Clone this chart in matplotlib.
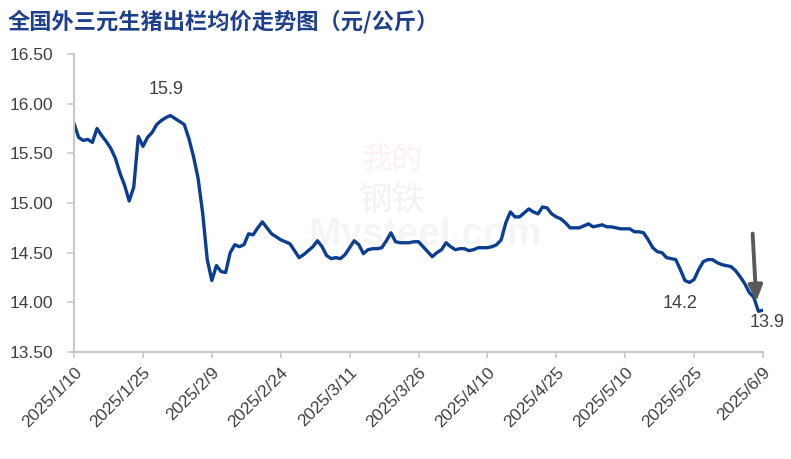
import numpy as np
import pandas as pd
import matplotlib
matplotlib.use("Agg")
import matplotlib.pyplot as plt

# 全国外三元生猪出栏均价 (元/公斤), 2025/1/10 - 2025/6/9
start = "2025-01-10"
prices = [
    15.80, 15.66, 15.63, 15.64, 15.61, 15.75, 15.68, 15.62, 15.55, 15.45,
    15.30, 15.18, 15.02, 15.16, 15.67, 15.57, 15.66, 15.71, 15.79, 15.83,
    15.86, 15.88, 15.85, 15.82, 15.79, 15.65, 15.47, 15.25, 14.90, 14.43,
    14.22, 14.37, 14.31, 14.30, 14.50, 14.58, 14.56, 14.58, 14.69, 14.68,
    14.75, 14.81, 14.75, 14.69, 14.66, 14.63, 14.61, 14.59, 14.52, 14.45,
    14.48, 14.52, 14.56, 14.62, 14.56, 14.47, 14.44, 14.45, 14.44, 14.48,
    14.55, 14.62, 14.58, 14.49, 14.53, 14.54, 14.54, 14.55, 14.62, 14.70,
    14.61, 14.60, 14.60, 14.60, 14.61, 14.61, 14.56, 14.51, 14.46, 14.50,
    14.53, 14.60, 14.56, 14.53, 14.54, 14.54, 14.52, 14.53, 14.55, 14.55,
    14.55, 14.56, 14.58, 14.63, 14.80, 14.91, 14.86, 14.86, 14.90, 14.94,
    14.91, 14.89, 14.96, 14.95, 14.89, 14.86, 14.84, 14.80, 14.75, 14.75,
    14.75, 14.77, 14.79, 14.76, 14.77, 14.78, 14.76, 14.76, 14.75, 14.74,
    14.74, 14.74, 14.71, 14.71, 14.70, 14.63, 14.55, 14.51, 14.50, 14.45,
    14.44, 14.43, 14.33, 14.22, 14.20, 14.23, 14.33, 14.41, 14.43, 14.43,
    14.40, 14.38, 14.37, 14.36, 14.32, 14.26, 14.19, 14.10, 14.05, 13.91,
    13.92,
]
dates = pd.date_range(start, periods=len(prices), freq="D")

tick_dates = pd.date_range(start, "2025-06-09", freq="15D")
tick_labels = [f"{d.year}/{d.month}/{d.day}" for d in tick_dates]
yticks = [13.5, 14.0, 14.5, 15.0, 15.5, 16.0, 16.5]

# labels: (date, text y, text)
notes = [("2025-01-30", 16.14, "15.9"), ("2025-05-22", 13.99, "14.2"),
         ("2025-06-10", 13.80, "13.9")]

title = "全国外三元生猪出栏均价走势图（元/公斤）"

plt.rcParams['font.family'] = ['Liberation Sans', 'DejaVu Sans']
fig = plt.figure(figsize=(7.91, 4.59), dpi=100)
ax = fig.add_axes([0.0936, 0.2331, 0.871, 0.6493])

ax.plot(dates, prices, color="#0B3D91", lw=2.4, solid_joinstyle="round")

ax.set_xlim(dates[0], dates[-1])
ax.set_ylim(13.5, 16.5)
ax.set_yticks(yticks)
ax.set_yticklabels([f"{v:.2f}" for v in yticks])
ax.set_xticks(tick_dates)
ax.set_xticklabels(tick_labels, rotation=45, ha="right", rotation_mode="anchor")

for s in ["top", "right"]:
    ax.spines[s].set_visible(False)
for s in ["left", "bottom"]:
    ax.spines[s].set_color("#C8C8C8")
    ax.spines[s].set_linewidth(1.5)
ax.tick_params(axis="y", colors="#C8C8C8", labelcolor="#404040", labelsize=12.5,
               length=5, width=1.2, pad=10)
ax.tick_params(axis="x", colors="#C8C8C8", labelcolor="#404040", labelsize=12.5,
               length=4, width=1.2, pad=5)

for d, y, t in notes:
    ax.text(pd.Timestamp(d), y, t, ha="center", va="center", fontsize=13,
            color="#404040")

ax.annotate("", xy=(pd.Timestamp("2025-06-07 14:00"), 13.98),
            xytext=(pd.Timestamp("2025-06-06 17:00"), 14.72),
            arrowprops=dict(arrowstyle="-|>,head_width=0.42,head_length=0.95",
                            color="#595959", lw=2.8))

# faint watermark
fig.text(0.496, 0.65, "我的", fontsize=22, color="#C0392B", alpha=0.07,
         ha="center", va="center", family=["Noto Sans CJK SC"])
fig.text(0.496, 0.564, "钢铁", fontsize=24, color="#2E4A8C", alpha=0.07,
         ha="center", va="center", family=["Noto Sans CJK SC"])
fig.text(0.537, 0.488, "Mysteel.com", fontsize=28, color="#808080", alpha=0.08,
         ha="center", va="center", fontweight="bold")

fig.text(0.01, 0.952, title, fontsize=16, color="#1E3F8C", fontweight="bold",
         ha="left", va="center", family=["Noto Sans CJK SC", "DejaVu Sans"])

fig.savefig("out.png", dpi=100)
